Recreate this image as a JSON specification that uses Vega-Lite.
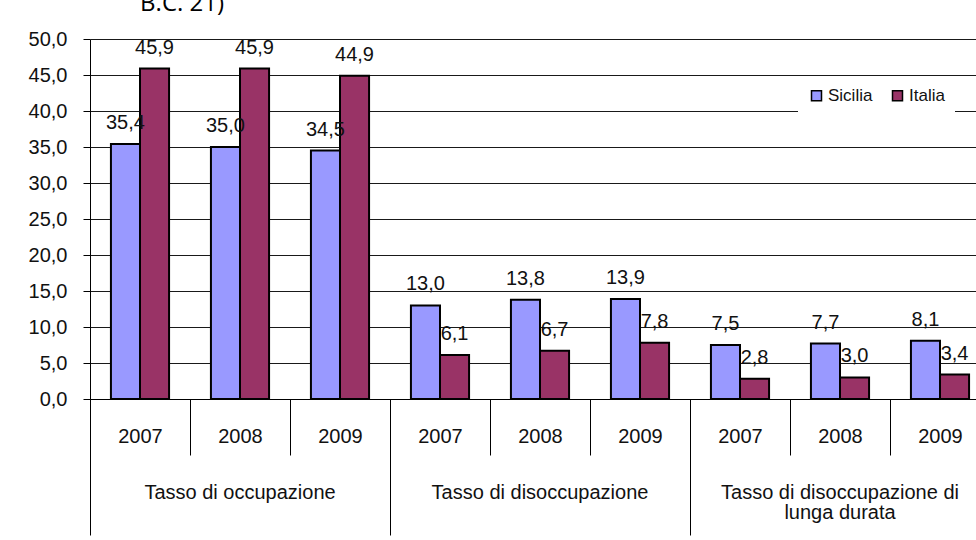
{
  "$schema": "https://vega.github.io/schema/vega-lite/v6.json",
  "autosize": "none",
  "padding": {"left": 90, "top": 39, "right": 0, "bottom": 141},
  "width": 886,
  "height": 360,
  "title": {"text": "B.C. 21)", "anchor": "start", "dx": 112, "fontSize": 24, "font": "Open Sans", "fontWeight": "normal", "color": "#000", "offset": 13},
  "data": {"values": [
    {"key": "A2007", "serie": "Sicilia", "v": 35.4},
    {"key": "A2007", "serie": "Italia", "v": 45.9},
    {"key": "A2008", "serie": "Sicilia", "v": 35.0},
    {"key": "A2008", "serie": "Italia", "v": 45.9},
    {"key": "A2009", "serie": "Sicilia", "v": 34.5},
    {"key": "A2009", "serie": "Italia", "v": 44.9},
    {"key": "B2007", "serie": "Sicilia", "v": 13.0},
    {"key": "B2007", "serie": "Italia", "v": 6.1},
    {"key": "B2008", "serie": "Sicilia", "v": 13.8},
    {"key": "B2008", "serie": "Italia", "v": 6.7},
    {"key": "B2009", "serie": "Sicilia", "v": 13.9},
    {"key": "B2009", "serie": "Italia", "v": 7.8},
    {"key": "C2007", "serie": "Sicilia", "v": 7.5},
    {"key": "C2007", "serie": "Italia", "v": 2.8},
    {"key": "C2008", "serie": "Sicilia", "v": 7.7},
    {"key": "C2008", "serie": "Italia", "v": 3.0},
    {"key": "C2009", "serie": "Sicilia", "v": 8.1},
    {"key": "C2009", "serie": "Italia", "v": 3.4}
  ]},
  "encoding": {
    "y": {"field": "v", "type": "quantitative", "scale": {"domain": [0, 50], "nice": false},
      "axis": {"title": null, "values": [0, 5, 10, 15, 20, 25, 30, 35, 40, 45, 50], "format": ".1f", "labelOverlap": false, "domainColor": "#000", "tickColor": "#000", "tickSize": 7,
        "labelPadding": 16, "labelFontSize": 20, "labelFont": "Liberation Sans", "labelColor": "#111", "grid": true, "gridColor": "#000", "gridOpacity": 0.9}},
    "xOffset": {"field": "serie", "type": "nominal", "sort": ["Sicilia", "Italia"], "scale": {"paddingOuter": 0.72, "paddingInner": 0}}
  },
  "layer": [
    {
      "mark": {"type": "bar", "stroke": "#000", "strokeWidth": 2},
      "encoding": {
        "x": {"field": "key", "type": "nominal", "sort": null,
          "scale": {"range": [0, 900], "paddingInner": 0, "paddingOuter": 0},
          "axis": {"title": null, "labelAngle": 0, "domainColor": "#000", "tickColor": "#000", "tickSize": 56, "tickBand": "extent",
            "labelPadding": -29, "labelFontSize": 20, "labelFont": "Liberation Sans", "labelColor": "#111", "labelLimit": 0,
            "labelOverlap": false, "labelBound": false, "labelFlush": false, "labelBaseline": "top", "grid": false,
            "labelExpr": "datum.value == null ? '' : substring(datum.value, 1)"}},
        "color": {"field": "serie", "type": "nominal", "sort": ["Sicilia", "Italia"],
          "scale": {"domain": ["Sicilia", "Italia"], "range": ["#9999FF", "#993366"]},
          "legend": {"orient": "none", "legendX": 708, "legendY": 38, "direction": "horizontal", "title": null, "fillColor": "#fff", "padding": 10,
            "symbolType": "square", "symbolSize": 100, "symbolStrokeColor": "#000", "symbolStrokeWidth": 1.5, "symbolOpacity": 1,
            "labelFontSize": 17, "labelFont": "Liberation Sans", "labelColor": "#111", "labelOffset": 3, "columnPadding": 16}}
      }
    },
    {
      "mark": {"type": "text", "dy": -15, "fontSize": 20, "font": "Liberation Sans", "color": "#111", "baseline": "alphabetic"},
      "encoding": {
        "x": {"field": "key", "type": "nominal", "sort": null,
          "axis": {"orient": "bottom", "title": null, "domain": false, "grid": false, "tickColor": "#000", "tickSize": 136, "bandPosition": 0,
            "values": ["A2007", "B2007", "C2007"],
            "labelPadding": -53, "labelOffset": 100, "labelAlign": "center", "labelBaseline": "top", "labelAngle": 0,
            "labelFontSize": 20, "labelFont": "Liberation Sans", "labelColor": "#111", "labelLimit": 0, "labelLineHeight": 20,
            "labelOverlap": false, "labelBound": false, "labelFlush": false,
            "labelExpr": "datum.value == 'A2007' ? 'Tasso di occupazione' : datum.value == 'B2007' ? 'Tasso di disoccupazione' : datum.value == 'C2007' ? ['Tasso di disoccupazione di', 'lunga durata'] : ''"}},
        "text": {"field": "v", "type": "quantitative", "format": ".1f"}
      }
    }
  ],
  "resolve": {"axis": {"x": "independent"}},
  "config": {
    "view": {"stroke": null},
    "font": "Liberation Sans",
    "locale": {"number": {"decimal": ",", "thousands": ".", "grouping": [3], "currency": ["", " €"]}}
  }
}
